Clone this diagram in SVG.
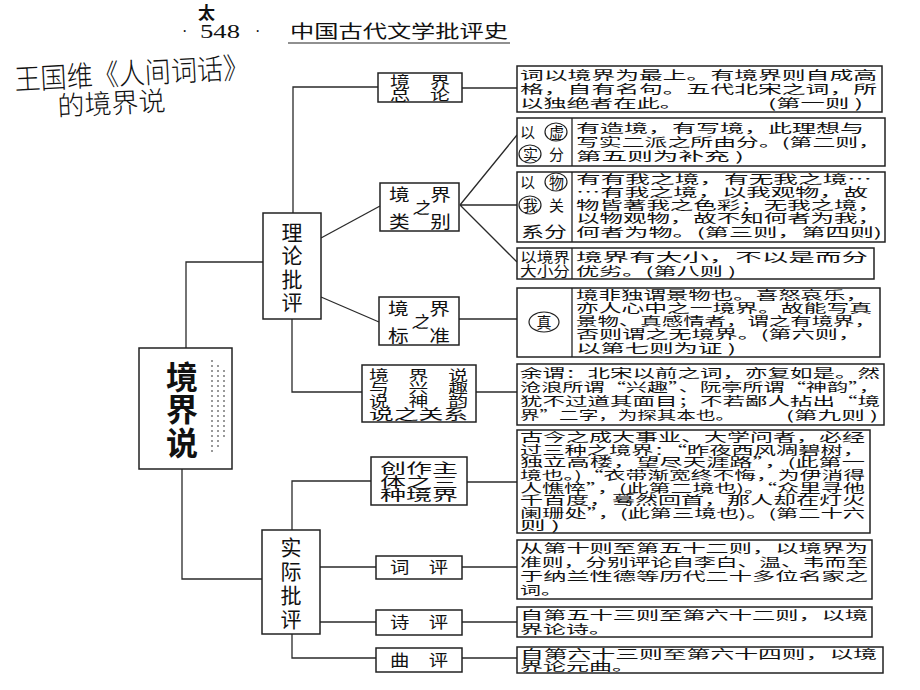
<svg xmlns="http://www.w3.org/2000/svg" width="920" height="690" viewBox="0 0 920 690">
<style>
.bx{fill:#fff;stroke:#222;stroke-width:1.5}
.ln{fill:none;stroke:#2a2a2a;stroke-width:1.3}
.t{font-family:"Noto Sans CJK SC",sans-serif;font-size:12.5px;fill:#111}
.n{font-family:"Noto Sans CJK SC",sans-serif;font-size:17px;fill:#111;text-anchor:middle}
.v{font-family:"Noto Sans CJK SC",sans-serif;font-size:21px;fill:#111;text-anchor:middle}
.hw{font-family:"Noto Sans CJK SC",sans-serif;fill:#111;font-weight:300}
.c{fill:none;stroke:#222;stroke-width:1.2}
.lb{font-size:15px}
</style>
<rect width="920" height="690" fill="#fff"/>

<g id="header">
<text class="hw" x="198" y="19" style="font-size:17px;font-weight:700">太</text>
<text x="182" y="37" font-family="Liberation Serif,serif" font-size="16" fill="#111">·</text>
<text x="200" y="38" font-family="Liberation Serif,serif" font-size="18" fill="#111" textLength="40" lengthAdjust="spacingAndGlyphs">548</text>
<text x="255" y="37" font-family="Liberation Serif,serif" font-size="16" fill="#111">·</text>
<text x="290" y="38" font-family="Noto Sans CJK SC,sans-serif" font-size="18" fill="#111" textLength="218" lengthAdjust="spacingAndGlyphs">中国古代文学批评史</text>
<line x1="288" y1="43" x2="510" y2="43" stroke="#222" stroke-width="1.2"/>
<text class="hw" x="15" y="90" style="font-size:29px" textLength="235" lengthAdjust="spacingAndGlyphs" transform="rotate(-3 15 90)">王国维《人间词话》</text>
<text class="hw" x="58" y="116" style="font-size:27px" textLength="108" lengthAdjust="spacingAndGlyphs" transform="rotate(-3 58 116)">的境界说</text>
</g>

<g id="connectors">
<path class="ln" d="M186,348 V262 H263"/>
<path class="ln" d="M182,469 V579 H262"/>
<path class="ln" d="M293,213 V87 H378"/>
<path class="ln" d="M321,238 L380,206"/>
<path class="ln" d="M321,297 L379,322"/>
<path class="ln" d="M292,319 V392 H362"/>
<path class="ln" d="M462,88 H517"/>
<path class="ln" d="M460,205 L517,135 M460,205 H517 M460,205 L517,262"/>
<path class="ln" d="M459,319 H517"/>
<path class="ln" d="M476,392 H517"/>
<path class="ln" d="M292,530 V481 H371"/>
<path class="ln" d="M467,482 H517"/>
<path class="ln" d="M320,567 H376 M462,567 H517"/>
<path class="ln" d="M320,622 H376 M462,622 H517"/>
<path class="ln" d="M292,634 V658 H376 M462,658 H517"/>
</g>

<g id="root">
<rect class="bx" x="139" y="348" width="93" height="121"/>
<g font-family="Noto Sans CJK SC,sans-serif" font-size="32" font-weight="700" fill="#111" text-anchor="middle">
<text x="182" y="389">境</text>
<text x="182" y="421">界</text>
<text x="182" y="455">说</text>
</g>
<path d="M212,360 V455 M218,365 V450 M224,370 V440" stroke="#999" stroke-width="2" stroke-dasharray="2 3" fill="none"/>
</g>

<g id="theory">
<rect class="bx" x="263" y="213" width="58" height="106"/>
<text class="v" x="292" y="240">理</text>
<text class="v" x="292" y="263">论</text>
<text class="v" x="292" y="287">批</text>
<text class="v" x="292" y="310">评</text>
</g>

<g id="practice">
<rect class="bx" x="262" y="530" width="58" height="104"/>
<text class="v" x="291" y="555">实</text>
<text class="v" x="291" y="579">际</text>
<text class="v" x="291" y="603">批</text>
<text class="v" x="291" y="627">评</text>
</g>

<g id="n-zonglun">
<rect class="bx" x="378" y="73" width="84" height="29"/>
<text class="n" x="420" y="87" style="font-size:15px" textLength="60" lengthAdjust="spacingAndGlyphs">境　界</text>
<text class="n" x="420" y="100" style="font-size:15px" textLength="60" lengthAdjust="spacingAndGlyphs">总　论</text>
</g>

<g id="n-leibie">
<rect class="bx" x="380" y="183" width="79" height="48"/>
<text class="n" x="420" y="201" textLength="62" lengthAdjust="spacingAndGlyphs">境　界</text>
<text class="n" x="421" y="214" font-style="italic">之</text>
<text class="n" x="420" y="228" textLength="62" lengthAdjust="spacingAndGlyphs">类　别</text>
</g>

<g id="n-biaozhun">
<rect class="bx" x="379" y="297" width="80" height="48"/>
<text class="n" x="419" y="315" textLength="62" lengthAdjust="spacingAndGlyphs">境　界</text>
<text class="n" x="420" y="328" font-style="italic">之</text>
<text class="n" x="419" y="342" textLength="62" lengthAdjust="spacingAndGlyphs">标　准</text>
</g>

<g id="n-xingqu">
<rect class="bx" x="362" y="365" width="114" height="57"/>
<text class="t" x="369" y="380" style="font-size:13.5px" textLength="99" lengthAdjust="spacingAndGlyphs">境　界　说</text>
<text class="t" x="369" y="393" style="font-size:13.5px" textLength="99" lengthAdjust="spacingAndGlyphs">与　兴　趣</text>
<text class="t" x="369" y="406" style="font-size:13.5px" textLength="99" lengthAdjust="spacingAndGlyphs">说　神　韵</text>
<text class="t" x="369" y="419" style="font-size:13.5px" textLength="99" lengthAdjust="spacingAndGlyphs">说之关系</text>
</g>

<g id="n-chuangzuo">
<rect class="bx" x="371" y="457" width="96" height="48"/>
<text class="t" x="380" y="473" style="font-size:14px" textLength="78" lengthAdjust="spacingAndGlyphs">创作主</text>
<text class="t" x="380" y="487" style="font-size:14px" textLength="78" lengthAdjust="spacingAndGlyphs">体之三</text>
<text class="t" x="380" y="500" style="font-size:14px" textLength="78" lengthAdjust="spacingAndGlyphs">种境界</text>
</g>

<g id="n-ci">
<rect class="bx" x="376" y="556" width="86" height="23"/>
<text class="n" x="419" y="573" style="font-size:16px" textLength="58" lengthAdjust="spacingAndGlyphs">词　评</text>
</g>
<g id="n-shi">
<rect class="bx" x="376" y="610" width="86" height="25"/>
<text class="n" x="419" y="628" style="font-size:16px" textLength="58" lengthAdjust="spacingAndGlyphs">诗　评</text>
</g>
<g id="n-qu">
<rect class="bx" x="376" y="648" width="86" height="24"/>
<text class="n" x="419" y="666" style="font-size:16px" textLength="58" lengthAdjust="spacingAndGlyphs">曲　评</text>
</g>

<g id="d1">
<rect class="bx" x="517" y="66" width="365" height="46"/>
<text class="t" x="520" y="80" textLength="357" lengthAdjust="spacingAndGlyphs">词以境界为最上。有境界则自成高</text>
<text class="t" x="520" y="94" textLength="357" lengthAdjust="spacingAndGlyphs">格，自有名句。五代北宋之词，所</text>
<text class="t" x="520" y="108" textLength="163" lengthAdjust="spacingAndGlyphs">以独绝者在此。</text>
<text class="t" x="768" y="108" textLength="95" lengthAdjust="spacingAndGlyphs">(第一则 )</text>
</g>

<g id="d2">
<rect class="bx" x="517" y="118" width="368" height="48"/>
<line x1="572" y1="118" x2="572" y2="166" stroke="#222" stroke-width="1.3"/>
<text class="t lb" x="520" y="138">以</text>
<text class="t lb" x="549" y="138">虚</text>
<ellipse class="c" cx="556" cy="132" rx="11" ry="9"/>
<text class="t lb" x="523" y="160">实</text>
<ellipse class="c" cx="530" cy="154" rx="11" ry="9"/>
<text class="t lb" x="549" y="160">分</text>
<text class="t" x="576" y="133" textLength="288" lengthAdjust="spacingAndGlyphs">有造境，有写境，此理想与</text>
<text class="t" x="576" y="147" textLength="305" lengthAdjust="spacingAndGlyphs">写实二派之所由分。(第二则，</text>
<text class="t" x="576" y="161" textLength="168" lengthAdjust="spacingAndGlyphs">第五则为补充 )</text>
</g>

<g id="d3">
<rect class="bx" x="517" y="172" width="368" height="70"/>
<line x1="572" y1="172" x2="572" y2="242" stroke="#222" stroke-width="1.3"/>
<text class="t lb" x="520" y="188">以</text>
<text class="t lb" x="549" y="188">物</text>
<ellipse class="c" cx="556" cy="182" rx="11" ry="9"/>
<text class="t lb" x="523" y="211">我</text>
<ellipse class="c" cx="530" cy="205" rx="11" ry="9"/>
<text class="t lb" x="549" y="211">关</text>
<text class="t lb" x="521" y="237" textLength="46" lengthAdjust="spacingAndGlyphs">系分</text>
<text class="t" x="576" y="184" textLength="296" lengthAdjust="spacingAndGlyphs">有有我之境，有无我之境…</text>
<text class="t" x="576" y="197" textLength="292" lengthAdjust="spacingAndGlyphs">…有我之境，以我观物，故</text>
<text class="t" x="576" y="210" textLength="305" lengthAdjust="spacingAndGlyphs">物皆著我之色彩；无我之境，</text>
<text class="t" x="576" y="223" textLength="305" lengthAdjust="spacingAndGlyphs">以物观物，故不知何者为我，</text>
<text class="t" x="576" y="237" textLength="306" lengthAdjust="spacingAndGlyphs">何者为物。(第三则，第四则)</text>
</g>

<g id="d4">
<rect class="bx" x="517" y="248" width="357" height="31"/>
<line x1="572" y1="248" x2="572" y2="279" stroke="#222" stroke-width="1.3"/>
<text class="t" x="520" y="262" style="font-size:14px" textLength="50" lengthAdjust="spacingAndGlyphs">以境界</text>
<text class="t" x="520" y="276" style="font-size:14px" textLength="50" lengthAdjust="spacingAndGlyphs">大小分</text>
<text class="t" x="576" y="262" textLength="292" lengthAdjust="spacingAndGlyphs">境界有大小，不以是而分</text>
<text class="t" x="576" y="276" textLength="160" lengthAdjust="spacingAndGlyphs">优劣。(第八则 )</text>
</g>

<g id="d5">
<rect class="bx" x="517" y="288" width="363" height="69"/>
<line x1="572" y1="288" x2="572" y2="357" stroke="#222" stroke-width="1.3"/>
<text class="t lb" x="544" y="328" text-anchor="middle">真</text>
<ellipse class="c" cx="544" cy="322" rx="15" ry="10"/>
<text class="t" x="576" y="300" textLength="292" lengthAdjust="spacingAndGlyphs">境非独谓景物也。喜怒哀乐，</text>
<text class="t" x="576" y="313" textLength="296" lengthAdjust="spacingAndGlyphs">亦人心中之一境界。故能写真</text>
<text class="t" x="576" y="326" textLength="300" lengthAdjust="spacingAndGlyphs">景物、真感情者，谓之有境界，</text>
<text class="t" x="576" y="339" textLength="285" lengthAdjust="spacingAndGlyphs">否则谓之无境界。(第六则，</text>
<text class="t" x="576" y="353" textLength="160" lengthAdjust="spacingAndGlyphs">以第七则为证 )</text>
</g>

<g id="d6">
<rect class="bx" x="517" y="364" width="367" height="61"/>
<text class="t" x="520" y="378" textLength="360" lengthAdjust="spacingAndGlyphs">余谓：北宋以前之词，亦复如是。然</text>
<text class="t" x="520" y="392" textLength="360" lengthAdjust="spacingAndGlyphs">沧浪所谓“兴趣”、阮亭所谓“神韵”，</text>
<text class="t" x="520" y="406" textLength="360" lengthAdjust="spacingAndGlyphs">犹不过道其面目；不若鄙人拈出“境</text>
<text class="t" x="520" y="420" textLength="215" lengthAdjust="spacingAndGlyphs">界”二字，为探其本也。</text>
<text class="t" x="786" y="420" textLength="92" lengthAdjust="spacingAndGlyphs">(第九则 )</text>
</g>

<g id="d7">
<rect class="bx" x="517" y="430" width="353" height="103"/>
<text class="t" x="520" y="442" textLength="345" lengthAdjust="spacingAndGlyphs">古今之成大事业、大学问者，必经</text>
<text class="t" x="520" y="455" textLength="345" lengthAdjust="spacingAndGlyphs">过三种之境界：“昨夜西风凋碧树，</text>
<text class="t" x="520" y="467" textLength="345" lengthAdjust="spacingAndGlyphs">独立高楼，望尽天涯路”，(此第一</text>
<text class="t" x="520" y="480" textLength="345" lengthAdjust="spacingAndGlyphs">境也。)“衣带渐宽终不悔，为伊消得</text>
<text class="t" x="520" y="493" textLength="345" lengthAdjust="spacingAndGlyphs">人憔悴”，(此第二境也)。“众里寻他</text>
<text class="t" x="520" y="505" textLength="345" lengthAdjust="spacingAndGlyphs">千百度，蓦然回首，那人却在灯火</text>
<text class="t" x="520" y="518" textLength="345" lengthAdjust="spacingAndGlyphs">阑珊处”，(此第三境也)。(第二十六</text>
<text class="t" x="520" y="530" textLength="40" lengthAdjust="spacingAndGlyphs">则 )</text>
</g>

<g id="d8">
<rect class="bx" x="517" y="540" width="355" height="59"/>
<text class="t" x="520" y="553" textLength="348" lengthAdjust="spacingAndGlyphs">从第十则至第五十二则，以境界为</text>
<text class="t" x="520" y="567" textLength="348" lengthAdjust="spacingAndGlyphs">准则，分别评论自李白、温、韦而至</text>
<text class="t" x="520" y="581" textLength="348" lengthAdjust="spacingAndGlyphs">于纳兰性德等历代二十多位名家之</text>
<text class="t" x="520" y="595" textLength="42" lengthAdjust="spacingAndGlyphs">词。</text>
</g>

<g id="d9">
<rect class="bx" x="517" y="607" width="355" height="30"/>
<text class="t" x="520" y="620" textLength="348" lengthAdjust="spacingAndGlyphs">自第五十三则至第六十二则，以境</text>
<text class="t" x="520" y="634" textLength="92" lengthAdjust="spacingAndGlyphs">界论诗。</text>
</g>

<g id="d10">
<rect class="bx" x="517" y="647" width="366" height="26"/>
<text class="t" x="520" y="659" style="font-size:12px" textLength="357" lengthAdjust="spacingAndGlyphs">自第六十三则至第六十四则，以境</text>
<text class="t" x="520" y="671" style="font-size:12px" textLength="115" lengthAdjust="spacingAndGlyphs">界论元曲。</text>
</g>
</svg>
